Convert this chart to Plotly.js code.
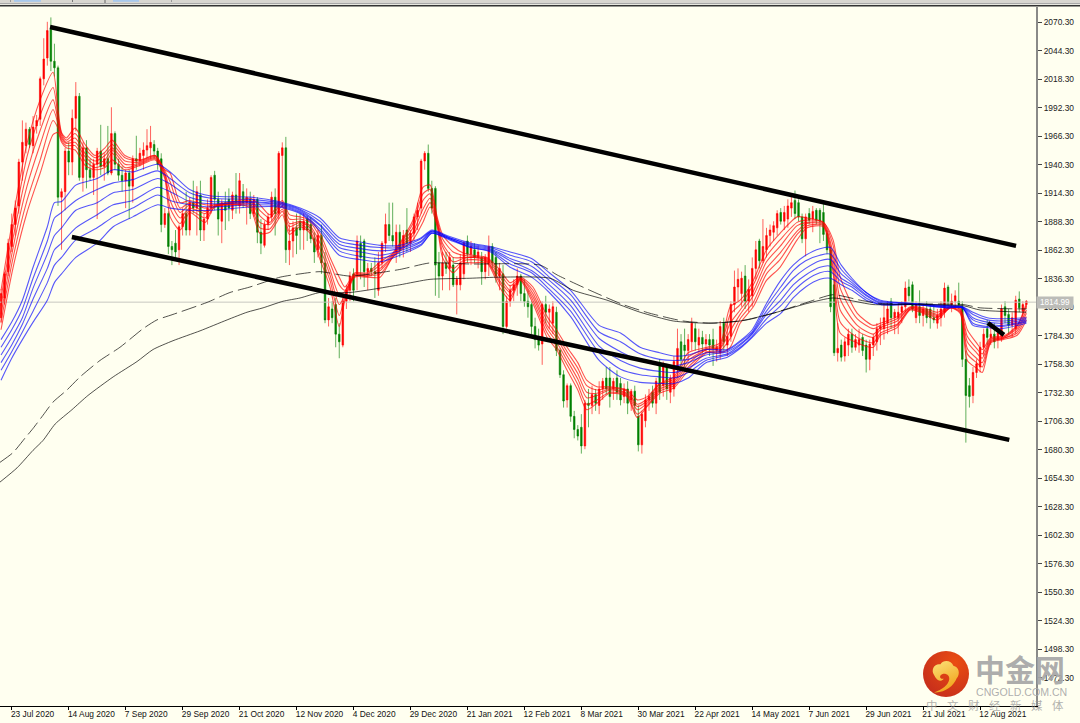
<!DOCTYPE html>
<html><head><meta charset="utf-8">
<script src="https://cdn.plot.ly/plotly-3.0.1.min.js"></script>
<style>html,body{margin:0;padding:0;background:#FFFFF0;overflow:hidden}#c{width:1080px;height:723px}</style>
</head><body><div id="c"></div>
<script>
const firstBar=-3;
const open=[1800,1818,1842,1865,1885,1902,1942,1957,1972,1957,
1975,1981,2018,2037,2063,2034,2028,1910,1915,1952,
1942,1982,2002,1928,1955,1935,1928,1940,1952,1938,
1945,1932,1968,1940,1930,1925,1932,1920,1945,1943,
1948,1953,1955,1958,1952,1945,1885,1895,1865,1868,
1862,1883,1895,1880,1905,1900,1912,1880,1890,1900,
1930,1908,1888,1905,1908,1898,1912,1902,1915,1905,
1908,1895,1908,1878,1866,1885,1892,1910,1895,1948,
1955,1862,1870,1882,1888,1880,1890,1885,1872,1862,
1875,1850,1798,1808,1812,1785,1775,1815,1825,1840,
1840,1868,1870,1842,1845,1842,1825,1850,1868,1885,
1875,1860,1878,1865,1880,1868,1877,1892,1900,1943,
1950,1918,1918,1850,1838,1850,1845,1848,1830,1830,
1840,1870,1858,1862,1855,1855,1842,1850,1865,1855,
1838,1840,1792,1815,1825,1830,1838,1822,1815,1812,
1792,1780,1776,1812,1805,1795,1805,1770,1748,1725,
1738,1710,1698,1700,1683,1722,1720,1730,1720,1735,
1745,1745,1735,1745,1740,1728,1735,1725,1733,1710,
1684,1706,1725,1732,1722,1757,1738,1755,1732,1735,
1755,1778,1775,1770,1778,1790,1775,1782,1776,1780,
1780,1770,1768,1795,1775,1783,1812,1828,1822,1838,
1815,1820,1845,1870,1852,1862,1875,1878,1882,1896,
1888,1890,1900,1907,1905,1892,1872,1895,1890,1898,
1898,1896,1877,1862,1830,1768,1775,1765,1775,1785,
1773,1775,1782,1775,1762,1775,1778,1790,1790,1795,
1815,1800,1800,1805,1810,1828,1830,1800,1810,1802,
1808,1808,1800,1795,1800,1805,1828,1812,1815,1815,
1810,1762,1738,1729,1750,1755,1773,1790,1782,1785,
1780,1783,1810,1803,1793,1790,1817,1806,1812];
const high=[1826,1842,1872,1895,1907,1945,1980,1978,1974,1984,
1985,2020,2055,2070,2074,2050,2030,1918,1955,1960,
1990,2015,2005,1960,1962,1945,1945,1955,1976,1950,
1975,1992,1970,1945,1938,1935,1935,1948,1966,1955,
1960,1972,1975,1962,1955,1950,1900,1897,1870,1880,
1885,1900,1915,1910,1925,1920,1925,1895,1908,1930,
1934,1915,1908,1915,1918,1915,1932,1932,1922,1918,
1915,1912,1910,1890,1888,1895,1915,1918,1952,1960,
1965,1885,1888,1895,1895,1895,1893,1892,1878,1880,
1885,1860,1818,1815,1818,1795,1818,1830,1842,1845,
1875,1875,1872,1850,1850,1855,1860,1870,1895,1905,
1905,1885,1885,1880,1900,1880,1895,1905,1945,1952,
1958,1925,1920,1860,1860,1860,1860,1855,1838,1858,
1870,1875,1870,1868,1865,1860,1858,1875,1868,1860,
1850,1848,1820,1830,1835,1845,1840,1835,1825,1815,
1800,1790,1815,1820,1812,1815,1810,1772,1752,1740,
1740,1715,1702,1712,1725,1735,1738,1735,1742,1745,
1755,1755,1745,1752,1745,1740,1742,1735,1738,1720,
1715,1730,1735,1738,1745,1762,1760,1758,1748,1765,
1790,1785,1790,1785,1800,1795,1790,1788,1785,1785,
1790,1780,1797,1800,1795,1815,1843,1845,1842,1848,
1835,1855,1870,1872,1890,1882,1885,1888,1898,1900,
1902,1908,1910,1916,1908,1895,1895,1900,1902,1900,
1900,1904,1880,1865,1835,1795,1780,1782,1790,1790,
1785,1790,1785,1780,1780,1785,1795,1800,1812,1815,
1818,1808,1812,1815,1833,1835,1833,1815,1825,1812,
1815,1812,1812,1808,1815,1832,1830,1822,1825,1832,
1815,1770,1745,1755,1762,1778,1790,1798,1795,1795,
1790,1812,1815,1808,1805,1820,1824,1815,1816];
const low=[1795,1812,1838,1860,1875,1895,1925,1950,1955,1950,
1968,1975,2012,2030,2025,2020,1902,1862,1898,1930,
1930,1970,1925,1915,1918,1925,1912,1890,1930,1925,
1930,1930,1935,1925,1915,1900,1890,1905,1935,1938,
1935,1945,1945,1945,1935,1878,1882,1858,1848,1855,
1848,1875,1875,1875,1895,1875,1870,1870,1885,1895,
1898,1875,1868,1880,1888,1890,1895,1895,1900,1885,
1890,1892,1868,1858,1864,1880,1888,1875,1890,1900,
1850,1848,1855,1858,1862,1862,1870,1868,1850,1855,
1840,1795,1792,1795,1773,1763,1773,1808,1815,1815,
1825,1835,1828,1825,1838,1818,1820,1845,1860,1870,
1865,1850,1855,1855,1860,1860,1870,1880,1895,1935,
1915,1895,1820,1818,1825,1840,1825,1828,1803,1825,
1835,1850,1848,1850,1845,1830,1835,1838,1845,1832,
1825,1785,1790,1810,1815,1820,1815,1810,1800,1785,
1772,1770,1757,1795,1790,1785,1765,1745,1718,1718,
1705,1690,1688,1676,1680,1700,1712,1715,1712,1725,
1730,1718,1725,1725,1720,1722,1712,1715,1712,1678,
1676,1700,1715,1718,1712,1725,1728,1725,1722,1728,
1745,1755,1755,1760,1770,1770,1768,1768,1768,1765,
1756,1760,1762,1770,1765,1778,1805,1815,1810,1808,
1805,1810,1835,1845,1850,1855,1865,1870,1875,1885,
1880,1882,1892,1890,1888,1868,1856,1885,1878,1885,
1868,1870,1858,1805,1765,1760,1760,1760,1765,1768,
1770,1768,1765,1750,1752,1765,1770,1775,1780,1785,
1790,1785,1785,1795,1805,1815,1805,1795,1795,1792,
1795,1790,1795,1790,1792,1800,1808,1805,1808,1808,
1755,1686,1718,1722,1745,1750,1765,1775,1775,1772,
1772,1778,1795,1785,1782,1785,1805,1800,1808];
const close=[1822,1840,1868,1885,1900,1942,1960,1972,1958,1974,
1980,2018,2036,2062,2034,2028,1910,1915,1952,1942,
1982,2002,1928,1955,1935,1928,1940,1952,1938,1945,
1932,1968,1940,1930,1925,1932,1920,1945,1943,1950,
1953,1957,1960,1952,1940,1885,1895,1865,1862,1860,
1883,1895,1880,1905,1900,1915,1880,1890,1900,1928,
1908,1890,1905,1898,1900,1912,1905,1925,1905,1910,
1895,1908,1878,1868,1885,1892,1910,1895,1950,1955,
1862,1870,1882,1875,1880,1888,1880,1872,1860,1875,
1850,1798,1810,1800,1785,1778,1815,1825,1838,1825,
1870,1855,1842,1845,1842,1840,1850,1868,1885,1875,
1870,1878,1862,1875,1868,1877,1892,1898,1943,1950,
1918,1900,1848,1838,1850,1845,1855,1830,1835,1850,
1868,1858,1865,1855,1860,1842,1855,1865,1850,1838,
1845,1792,1815,1825,1830,1838,1822,1815,1810,1792,
1780,1775,1812,1805,1808,1810,1770,1748,1724,1738,
1710,1698,1692,1683,1722,1720,1730,1722,1735,1742,
1735,1728,1742,1732,1725,1735,1722,1733,1720,1684,
1712,1725,1728,1722,1742,1732,1755,1735,1745,1760,
1772,1762,1770,1780,1795,1778,1782,1776,1780,1775,
1772,1773,1792,1778,1783,1812,1828,1835,1836,1815,
1826,1845,1862,1852,1865,1875,1880,1884,1895,1888,
1896,1902,1905,1895,1892,1872,1892,1889,1897,1889,
1888,1876,1862,1810,1768,1772,1764,1778,1785,1773,
1780,1780,1770,1762,1776,1782,1790,1792,1800,1808,
1800,1805,1805,1810,1827,1820,1808,1812,1802,1808,
1800,1800,1798,1802,1808,1827,1814,1815,1820,1812,
1762,1729,1728,1750,1758,1773,1785,1782,1785,1778,
1786,1808,1802,1793,1800,1816,1809,1812,1815];

const redX=[-3,0.4,4.3,8,11.6,13,14,15.3,17.8,20.6,23.4,26.2,28.2,31.8,36,40.3,43,44.5,47.3,50,54.3,57,64,67,69.7,72.5,76,78,81,83.8,86.6,89.4,92,93.6,96.4,99.8,103.5,107,112.7,115.5,117.5,119.5,121,124,126.8,129.6,133.5,137,140,142.8,146.4,150.4,153,156,159,161.5,164.4,168,172.8,175.7,178.5,182,186,190,195.3,199,201.8,204.6,208.3,212,215.8,220.6,223.4,228,230.7,232.7,237.5,242,244,248.7,252.4,256,260,263.6,266.4,268.4,271,272.6,275,278.4,282.4,285];
const red1=[1825,1892,1959,1999,2024,1990,1969,1964,1973,1958,1948,1955,1962,1948,1944,1948,1935,1932,1905,1907,1903,1903,1907,1909,1903,1894,1907,1894,1892,1889,1877,1855,1837,1828,1841,1841,1851,1859,1889,1919,1921,1892,1876,1865,1859,1857,1855,1844,1832,1837,1828,1801,1789,1773,1759,1743,1737,1737,1734,1725,1728,1740,1746,1768,1773,1777,1810,1816,1834,1862,1877,1892,1891,1887,1871,1837,1804,1793,1795,1801,1810,1809,1805,1810,1809,1789,1777,1771,1782,1783,1793,1813];
const red2=[1818,1882,1947,1985,2010,1984,1968,1962,1968,1954,1946,1951,1958,1946,1943,1948,1934,1924,1900,1905,1900,1903,1906,1907,1898,1891,1905,1890,1890,1887,1873,1850,1830,1825,1840,1840,1848,1858,1886,1913,1917,1890,1872,1860,1857,1856,1854,1841,1829,1836,1825,1797,1785,1769,1754,1738,1734,1736,1733,1721,1726,1739,1744,1764,1772,1775,1803,1812,1830,1856,1871,1887,1889,1887,1866,1827,1799,1790,1793,1799,1809,1808,1803,1810,1808,1783,1772,1767,1781,1782,1792,1811];
const red3=[1811,1873,1933,1971,1999,1980,1966,1960,1964,1950,1943,1948,1955,1943,1942,1947,1932,1916,1896,1903,1897,1902,1905,1906,1893,1887,1902,1886,1888,1884,1868,1844,1821,1824,1839,1839,1845,1857,1882,1907,1913,1888,1868,1855,1855,1855,1853,1838,1825,1836,1822,1793,1782,1765,1749,1732,1731,1735,1731,1719,1724,1737,1742,1761,1771,1773,1795,1807,1824,1851,1865,1884,1887,1886,1859,1817,1793,1785,1791,1797,1809,1807,1802,1810,1807,1778,1768,1763,1780,1782,1790,1807];
const red4=[1803,1864,1920,1958,1990,1977,1964,1959,1960,1947,1940,1944,1953,1940,1941,1946,1931,1907,1891,1900,1895,1902,1904,1904,1887,1885,1899,1883,1887,1882,1863,1839,1812,1821,1839,1838,1843,1856,1878,1899,1909,1887,1865,1851,1854,1855,1852,1834,1823,1835,1819,1790,1778,1761,1744,1727,1729,1734,1730,1716,1722,1735,1740,1758,1771,1772,1788,1803,1820,1845,1859,1879,1886,1885,1853,1807,1788,1782,1789,1794,1808,1806,1801,1809,1806,1772,1763,1759,1779,1781,1788,1804];
const red5=[1796,1855,1907,1944,1980,1973,1962,1957,1957,1943,1937,1940,1950,1937,1940,1945,1929,1900,1886,1898,1891,1901,1903,1902,1882,1881,1897,1879,1885,1879,1857,1834,1802,1819,1838,1838,1840,1855,1875,1893,1905,1885,1860,1845,1852,1853,1851,1832,1819,1835,1816,1786,1774,1757,1739,1721,1725,1732,1729,1712,1720,1733,1738,1755,1769,1770,1781,1799,1814,1840,1853,1876,1884,1884,1846,1796,1782,1777,1786,1793,1808,1805,1800,1809,1805,1767,1759,1755,1778,1781,1786,1801];
const red6=[1789,1846,1896,1932,1967,1969,1960,1955,1953,1939,1935,1937,1944,1935,1939,1944,1927,1892,1880,1896,1887,1901,1903,1900,1877,1878,1894,1876,1883,1877,1853,1828,1792,1816,1837,1837,1837,1855,1871,1887,1901,1883,1855,1841,1850,1850,1850,1828,1816,1834,1813,1782,1771,1752,1734,1716,1722,1731,1728,1709,1719,1731,1736,1752,1768,1768,1773,1795,1810,1834,1846,1871,1882,1883,1841,1786,1777,1773,1784,1791,1807,1804,1798,1809,1804,1761,1754,1750,1777,1780,1784,1798];

const blueX=[-3,0,3,6,10,12,14,18,24,28.5,34,41,44.5,50,56,67,75,81,86.6,92,98,103.5,109,115,118,123,129,134.5,140,146,151,157,165,171,176.5,182,186,190,195,201,205,208,212,216,219.5,223,227,230,233,236,240,244,253,263,267,270,274,278,285];
const blue1=[1780,1796,1816,1846,1883,1905,1906,1921,1927,1935,1933,1940,1933,1917,1911,1910,1906,1900,1891,1873,1869,1866,1866,1873,1880,1874,1868,1865,1860,1854,1841,1825,1793,1786,1773,1768,1765,1766,1771,1771,1780,1789,1813,1834,1848,1857,1863,1864,1848,1836,1823,1816,1813,1811,1810,1805,1800,1799,1800];
const blue2=[1773,1789,1808,1836,1870,1891,1896,1907,1917,1923,1926,1934,1927,1914,1909,1908,1905,1899,1888,1870,1866,1864,1864,1872,1879,1873,1867,1864,1857,1851,1837,1821,1787,1778,1767,1762,1761,1762,1768,1770,1779,1787,1810,1828,1843,1852,1857,1858,1844,1834,1823,1815,1813,1811,1810,1803,1798,1797,1799];
const blue3=[1766,1782,1800,1827,1858,1875,1882,1898,1905,1914,1917,1927,1922,1910,1906,1906,1904,1898,1885,1867,1863,1861,1863,1870,1879,1873,1866,1863,1854,1847,1834,1816,1781,1769,1761,1757,1756,1759,1766,1769,1777,1786,1806,1823,1836,1845,1852,1853,1840,1832,1821,1814,1813,1810,1810,1800,1796,1795,1798];
const blue4=[1759,1775,1794,1817,1845,1862,1868,1882,1894,1903,1907,1919,1915,1906,1904,1905,1903,1897,1884,1864,1860,1857,1861,1869,1878,1872,1865,1862,1852,1843,1830,1811,1774,1761,1754,1751,1750,1754,1763,1767,1776,1785,1803,1816,1830,1839,1846,1847,1836,1830,1820,1813,1812,1810,1809,1798,1794,1793,1797];
const blue5=[1752,1769,1787,1806,1832,1848,1855,1871,1882,1892,1900,1912,1907,1903,1901,1903,1902,1896,1881,1861,1856,1854,1859,1867,1877,1872,1864,1861,1849,1841,1826,1806,1768,1753,1748,1746,1745,1750,1761,1766,1774,1783,1799,1811,1824,1834,1841,1842,1833,1828,1818,1812,1812,1809,1809,1795,1792,1792,1796];
const blue6=[1743,1763,1780,1796,1816,1832,1840,1855,1868,1883,1892,1903,1900,1898,1898,1901,1901,1895,1879,1857,1853,1851,1857,1866,1877,1871,1864,1860,1846,1837,1823,1801,1761,1746,1741,1740,1740,1745,1759,1764,1773,1782,1795,1804,1818,1828,1835,1836,1830,1825,1816,1812,1812,1809,1809,1793,1791,1790,1795];

const solidX=[-3.3,1.5,6,8.8,12.2,16.9,21.4,28.5,35.2,39.7,45.3,52.9,60.5,66.1,70.6,76.2,81,86.6,95,109,117.5,128.7,137.2,151.2,157.7,167.2,176.5,185.8,195.3,204.6,213.8,223.4,230.7,241.9,249.5,267.2,272,285];
const solidY=[1650,1663,1679,1688,1703,1716,1729,1746,1760,1771,1779,1788,1798,1805,1809,1815,1818,1823,1823,1830,1835,1836,1837,1836,1825,1816,1805,1797,1795,1797,1804,1813,1818,1812,1812,1811,1807,1805];
const dashX=[-3.3,0.4,3.7,6,8.8,11.6,15.5,19.2,24.8,30.4,36.9,40.8,45.3,54.9,61.3,66.9,75.4,81,86.6,95,109,117.5,128.7,148.4,153.2,162.4,171.7,179.3,188.6,197,206.5,213.8,223.4,230.7,238.3,244,267.2,272,285];
const dashY=[1668,1677,1690,1699,1711,1723,1734,1746,1761,1773,1790,1798,1803,1814,1823,1828,1837,1840,1842,1838,1844,1850,1849,1848,1839,1825,1812,1804,1797,1795,1798,1804,1814,1821,1816,1813,1812,1809,1808];

const upperX=[10.76,282.1], upperY=[2065.3,1865.5];
const lowerX=[16.9,280.2], lowerY=[1873.7,1688.5];
const shortX=[274.2,278.7], shortY=[1795.2,1784.3];

const lastPrice=1814.99;
const yTicks=[2070.3,2044.3,2018.3,1992.3,1966.3,1940.3,1914.3,1888.3,1862.3,1836.3,1810.3,1784.3,1758.3,1732.3,1706.3,1680.3,1654.3,1628.3,1602.3,1576.3,1550.3,1524.3,1498.3,1472.3];
const xTickBars=[0,16,32,48,64,80,96,112,128,144,160,176,192,208,224,240,256,272];
const xTickText=["23 Jul 2020","14 Aug 2020","7 Sep 2020","29 Sep 2020","21 Oct 2020","12 Nov 2020","4 Dec 2020","29 Dec 2020","21 Jan 2021","12 Feb 2021","8 Mar 2021","30 Mar 2021","22 Apr 2021","14 May 2021","7 Jun 2021","29 Jun 2021","21 Jul 2021","12 Aug 2021"];
const watermarkChars=["中","文","财","经","新","媒","体"];

const W=1036,H=699,T=7;
const px=x=>x/W, py=y=>(T+H-y)/H;
const calib=0.8;
const adj=a=>a.map(v=>v+calib);
const bars=open.map((_,i)=>firstBar+i);
const traces=[];
traces.push({type:'scatter',mode:'lines',x:[-4,288],y:[lastPrice,lastPrice],line:{color:'#c8c8c0',width:1},hoverinfo:'skip'});
traces.push({type:'candlestick',x:bars,open:adj(open),high:adj(high),low:adj(low),close:adj(close),whiskerwidth:0,
 increasing:{line:{color:'rgba(255,0,0,0.62)',width:1},fillcolor:'#ff0000'},
 decreasing:{line:{color:'rgba(0,128,0,0.62)',width:1},fillcolor:'#008000'},hoverinfo:'skip'});
[red1,red2,red3,red4,red5,red6].forEach(y=>traces.push({type:'scatter',mode:'lines',x:redX,y:adj(y),line:{color:'rgba(255,0,0,0.68)',width:1.1,shape:'spline',smoothing:0.7},hoverinfo:'skip'}));
[blue1,blue2,blue3,blue4,blue5,blue6].forEach(y=>traces.push({type:'scatter',mode:'lines',x:blueX,y:adj(y),line:{color:'rgba(0,0,255,0.66)',width:1.1,shape:'spline',smoothing:0.7},hoverinfo:'skip'}));
traces.push({type:'scatter',mode:'lines',x:dashX,y:adj(dashY),line:{color:'rgba(0,0,0,0.68)',width:1,dash:'15px,5px',shape:'spline',smoothing:0.6},hoverinfo:'skip'});
traces.push({type:'scatter',mode:'lines',x:solidX,y:adj(solidY),line:{color:'rgba(0,0,0,0.68)',width:1,shape:'spline',smoothing:0.6},hoverinfo:'skip'});
[[upperX,upperY],[lowerX,lowerY],[shortX,shortY]].forEach(([x,y])=>traces.push({type:'scatter',mode:'lines',x,y:adj(y),line:{color:'#000',width:4.5},hoverinfo:'skip'}));

const rect=(x0,y0,x1,y1,fill)=>({type:'rect',xref:'paper',yref:'paper',x0:px(x0),x1:px(x1),y0:py(y0),y1:py(y1),fillcolor:fill,line:{width:0},layer:'above'});
const shapes=[rect(0,0,1080,3,'#d8d6d0'),rect(14,0,41,1.8,'#a8c8ec'),rect(113,0,139,1.8,'#a8c8ec'),rect(10,0,11,2,'#999'),rect(72,0,73,2,'#777'),rect(104.5,0,105.5,3,'#666'),rect(171,0,172,2,'#999'),rect(0,3,1080,4,'#a8a8a8'),rect(0,4,1080,5,'#e8e8e0'),rect(0,5,1080,6.5,'#333')];

const logo='<svg xmlns="http://www.w3.org/2000/svg" width="100" height="100" viewBox="0 0 100 100"><defs><radialGradient id="g" cx="0.7" cy="0.25" r="0.9"><stop offset="0" stop-color="#ea4d12"/><stop offset="1" stop-color="#c42c1c"/></radialGradient><linearGradient id="s" x1="0" y1="0" x2="0.4" y2="1"><stop offset="0" stop-color="#fbe27a"/><stop offset="1" stop-color="#f2a51d"/></linearGradient></defs><circle cx="50" cy="50" r="50" fill="url(#g)"/><path d="M24 52C16 40 26 26 38 29C44 18 62 20 66 32C78 34 82 50 73 60C67 76 47 92 24 90C42 84 55 74 57 62C59 50 44 46 38 53C35 58 41 62 45 60C42 68 30 66 24 52Z" fill="url(#s)"/></svg>';

const txt=(text,x,y,size,color,family,anchor)=>({xref:'paper',yref:'paper',x:px(x),y:py(y),text,showarrow:false,xanchor:anchor||'left',yanchor:'middle',font:{family:family||'"Noto Sans CJK SC",sans-serif',size,color}});
const annotations=[
 {xref:'paper',yref:'paper',x:px(1055),y:py(302.5),text:'1814.99',showarrow:false,xanchor:'center',yanchor:'middle',font:{family:'Liberation Sans',size:8.2,color:'#fff'},bgcolor:'#bcbcb8',borderpad:1,width:34,height:9},
 txt('<b>中金网</b>',973,668,30,'rgba(168,168,168,0.95)'),
 txt('CNGOLD.COM.CN',974,691.5,10.6,'rgba(170,170,170,0.95)','Liberation Sans'),
 ...watermarkChars.map((c,i)=>txt(c,932+21*i,705,11.5,'rgba(150,150,150,0.75)',undefined,'center'))
];

Plotly.newPlot('c',traces,{
 width:1080,height:723,showlegend:false,dragmode:false,hovermode:false,boxgap:0.38,
 margin:{l:0,r:44,t:7,b:17,pad:0},
 paper_bgcolor:'#FFFFF0',plot_bgcolor:'#FFFFF0',
 xaxis:{range:[-3.29,287.7],tickmode:'array',tickvals:xTickBars,ticktext:xTickText,ticks:'outside',ticklen:3,tickcolor:'#000',tickwidth:1,ticklabelposition:'outside right',ticklabelshift:-2,showgrid:false,zeroline:false,showline:true,linecolor:'#000',linewidth:1.4,rangeslider:{visible:false},tickangle:0,automargin:false,tickfont:{family:'Liberation Sans',size:8.4,color:'#111'}},
 yaxis:{range:[1446.5,2084.3],side:'right',tickmode:'array',tickvals:yTicks,ticktext:yTicks.map(v=>v.toFixed(2)),ticks:'outside',ticklen:4,tickcolor:'#444',tickwidth:1,showgrid:false,zeroline:false,showline:true,linecolor:'#8a8a88',linewidth:2,automargin:false,tickfont:{family:'Liberation Sans',size:8.4,color:'#222'}},
 shapes,annotations,
 images:[{source:'data:image/svg+xml;base64,'+btoa(logo),xref:'paper',yref:'paper',x:px(923),y:py(651),sizex:46/W,sizey:46/H,sizing:'stretch',layer:'above',xanchor:'left',yanchor:'top'}]
},{displayModeBar:false,staticPlot:true});
</script></body></html>
